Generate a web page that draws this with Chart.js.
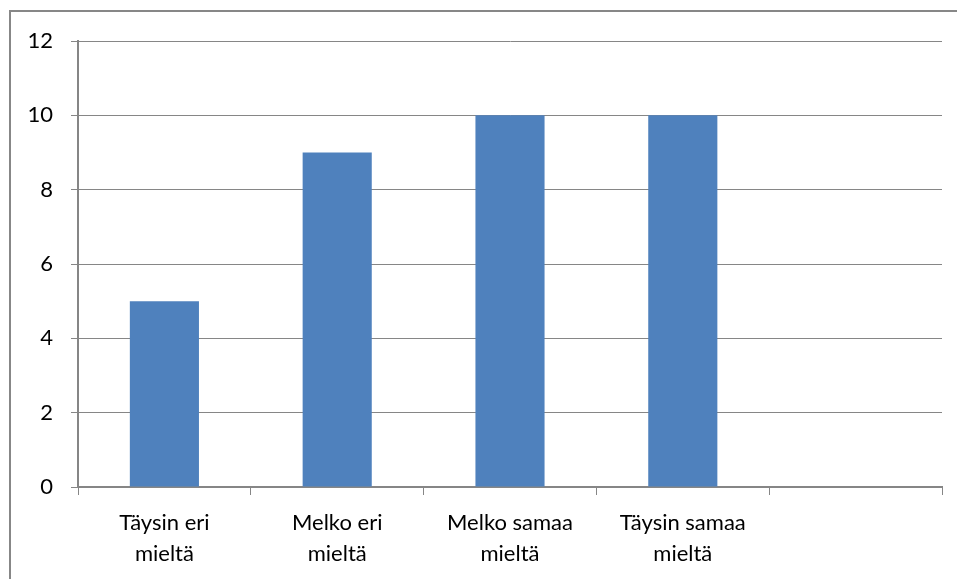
<!DOCTYPE html>
<html>
<head>
<meta charset="utf-8">
<script src="https://cdn.jsdelivr.net/npm/chart.js@4/dist/chart.umd.min.js"></script>
<style>
  html, body { margin: 0; padding: 0; background: #fff; }
  #wrap { width: 957px; height: 579px; position: relative; }
</style>
</head>
<body>
<div id="wrap"><canvas id="chart"></canvas></div>
<script>
// data
const categories = [["Täysin eri", "mieltä"], ["Melko eri", "mieltä"], ["Melko samaa", "mieltä"], ["Täysin samaa", "mieltä"], ""];
const values = [5, 9, 10, 10, null];
const yTicks = [0, 2, 4, 6, 8, 10, 12];

const gray = "#868686";

// gray frame round the chart, only left and top are inside the picture
const framePlugin = {
  id: "frame",
  beforeDraw(chart) {
    const ctx = chart.ctx;
    ctx.save();
    ctx.fillStyle = "#fff";
    ctx.fillRect(0, 0, chart.width, chart.height);
    ctx.strokeStyle = "#878787";
    ctx.lineWidth = 2;
    ctx.strokeRect(10, 11, 1000, 1000);
    ctx.restore();
  }
};

const ctx = document.getElementById("chart").getContext("2d");
new Chart(ctx, {
  type: "bar",
  data: {
    labels: categories,
    datasets: [{
      data: values,
      backgroundColor: "#4F81BD",
      barPercentage: 0.4,
      categoryPercentage: 1.0
    }]
  },
  options: {
    responsive: true,
    maintainAspectRatio: false,
    animation: false,
    layout: { padding: { top: 41, right: 15, left: 0, bottom: 0 } },
    plugins: { legend: { display: false }, tooltip: { enabled: false } },
    scales: {
      x: {
        offset: true,
        grid: { offset: true, drawOnChartArea: false, color: gray, tickLength: 8, lineWidth: 1 },
        border: { color: gray, width: 2 },
        ticks: {
          color: "#000",
          font: { family: "Lato", size: 22, lineHeight: 1.38 },
          padding: 13,
          maxRotation: 0,
          autoSkip: false
        },
        afterFit(scale) { scale.height = 92; }
      },
      y: {
        min: 0,
        max: 12,
        afterBuildTicks(scale) { scale.ticks = yTicks.map(v => ({ value: v })); },
        grid: { color: gray, tickLength: 7, lineWidth: 1 },
        border: { color: gray, width: 2 },
        ticks: {
          color: "#000",
          font: { family: "Lato", size: 22 },
          padding: 18
        },
        afterFit(scale) { scale.width = 78; }
      }
    }
  },
  plugins: [framePlugin]
});
</script>
</body>
</html>
